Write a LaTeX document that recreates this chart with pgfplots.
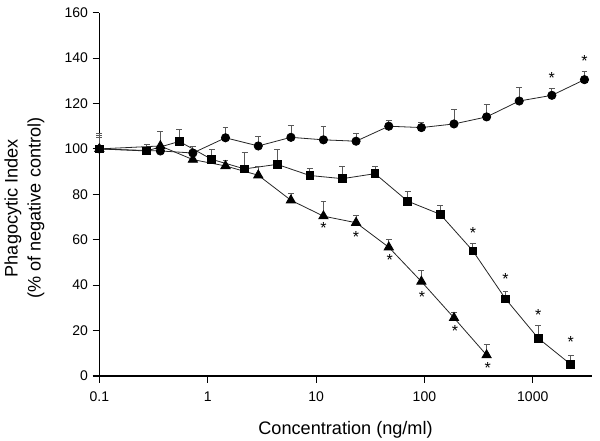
\documentclass[border=0pt]{standalone}
\usepackage{fontspec}
\setmainfont{Liberation Sans}
\usepackage{pgfplots}
\pgfplotsset{compat=1.18}
\begin{document}
\begin{tikzpicture}
\useasboundingbox (-74.5pt,-48pt) rectangle (375.5pt,282pt);
\begin{axis}[
  at={(0,0)}, anchor=south west,
  scale only axis, width=369.3pt, height=272.5pt,
  xmode=log, xmin=0.1, xmax=3500, ymin=0, ymax=160,
  axis x line*=bottom, axis y line*=left,
  axis line style={-, line width=0.8pt},
  tick align=outside, major tick length=5pt,
  tick style={line width=0.8pt, black},
  xtick={0.1,1,10,100,1000}, xticklabels={0.1,1,10,100,1000},
  xminorticks=false, yminorticks=false,
  ytick={0,20,...,160},
  /pgf/number format/assume math mode=true,
  ticklabel style={font=\fontsize{10.5}{12}\selectfont},
  xticklabel style={yshift=-3pt},
  xlabel={Concentration (ng/ml)},
  xlabel style={at={(axis description cs:0.5,-0.147)}, anchor=center, font=\fontsize{13.6}{15}\selectfont},
  ylabel={Phagocytic Index\\(\% of negative control)},
  ylabel style={at={(axis description cs:-0.152,0.462)}, anchor=center, align=center, font=\fontsize{13.6}{17.3}\selectfont},
  clip=false,
  error bars/y dir=plus, error bars/y explicit,
  error bars/error bar style={gray!70!black, line width=0.6pt},
  error bars/error mark options={gray!70!black, line width=0.6pt, mark size=2.2pt, rotate=90},
]
% circles
\addplot[black!85, line width=0.6pt, mark=*, mark size=3.1pt, mark options={fill=black, draw=black}]
  table[x=x, y=y, y error=e] {
x y e
0.1 100 7
0.366 99.1 1.9
0.73 98.2 2.8
1.46 104.9 4.5
2.93 101.3 4.2
5.86 105.1 5.2
11.7 104.0 5.7
23.4 103.4 3.4
46.9 110.0 2.5
93.75 109.4 2.1
187.5 111.0 6.3
375 114.1 5.3
750 121.1 6.2
1500 123.6 3.2
3000 130.5 3.6
};
% squares
\addplot[black!85, line width=0.6pt, mark=square*, mark size=2.9pt, mark options={fill=black, draw=black}]
  table[x=x, y=y, y error=e] {
x y e
0.1 100 6
0.273 99.1 3.0
0.547 103.3 5.1
1.09 95.4 4.2
2.19 91.2 7.4
4.375 93.2 6.4
8.75 88.3 3.0
17.5 86.9 5.3
35 89.1 3.0
70 77.0 4.1
140 71.2 3.8
280 55.1 3.2
560 34.0 3.3
1120 16.7 5.5
2240 5.1 4.1
};
% triangles
\addplot[black!85, line width=0.6pt, mark=triangle*, mark size=4pt, mark options={fill=black, draw=black}]
  table[x=x, y=y, y error=e] {
x y e
0.1 100 5
0.366 101.3 6.4
0.73 95.3 2
1.46 92.5 2.6
2.93 88.4 3.9
5.86 77.4 3.0
11.7 70.4 6.5
23.4 67.5 3.1
46.9 56.7 3.5
93.75 41.6 4.7
187.5 25.6 2.6
375 9.2 4.5
};
% asterisks
\addplot[only marks, mark=text, text mark={\fontsize{12}{12}\selectfont *}, error bars/y dir=none]
  table {
x y
1500 131.3
3000 138.9
280 62.8
560 42.5
1120 27.0
2240 14.8
11.7 65.3
23.4 61.4
47.9 51.2
95 34.8
192 19.9
385 3.7
};
\end{axis}
\end{tikzpicture}
\end{document}
